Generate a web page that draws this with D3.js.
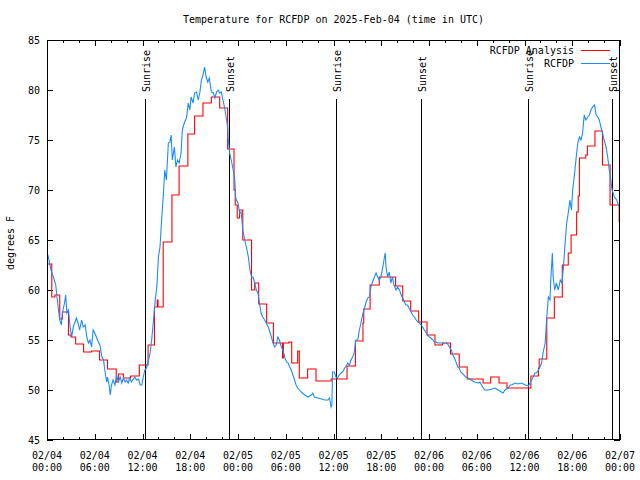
<!DOCTYPE html>
<html><head><meta charset="utf-8">
<script src="https://cdn.jsdelivr.net/npm/d3@7"></script>
<style>
body{margin:0;background:#fff}
svg text{font-family:"DejaVu Sans Mono","Liberation Mono",monospace;font-size:10px;fill:#000}
</style>
</head><body>
<svg id="chart" width="640" height="480"></svg>
<script>
// ---------- data (hours since 2025-02-04 00:00 UTC) ----------
const title = "Temperature for RCFDP on 2025-Feb-04 (time in UTC)";
const yLabel = "degrees F";
const seriesNames = ["RCFDP Analysis", "RCFDP"];
const yTicks = [45, 50, 55, 60, 65, 70, 75, 80, 85];
const xTickHours = [0, 6, 12, 18, 24, 30, 36, 42, 48, 54, 60, 66, 72];
const xTickDates = ["02/04","02/04","02/04","02/04","02/05","02/05","02/05","02/05","02/06","02/06","02/06","02/06","02/07"];
const xTickTimes = ["00:00","06:00","12:00","18:00","00:00","06:00","12:00","18:00","00:00","06:00","12:00","18:00","00:00"];
const eventNames = ["Sunrise","Sunset","Sunrise","Sunset","Sunrise","Sunset"];
const eventHours = [12.3, 22.92, 36.35, 47.02, 60.46, 71.03];

const analysisHours = [0,0.6,1.0,1.6,1.95,2.7,3.0,3.6,4.6,5.6,6.6,7.6,8.7,9.0,9.6,10.5,11.6,12.7,13.5,13.85,13.95,14.6,15.7,16.6,17.7,18.55,19.6,20.65,21.7,22.7,23.5,23.65,23.9,24.2,24.6,25.7,26.1,26.6,27.6,28.45,29.6,29.7,30.4,30.75,31.5,31.7,32.75,33.8,35.7,37.7,38.75,39.7,39.8,40.6,41.75,43.8,44.7,45.7,46.7,47.75,48.75,49.7,50.7,51.8,52.8,54.8,55.75,56.8,57.8,60.8,61.75,61.85,62.8,63.75,64.75,65.5,65.85,66.55,66.75,66.9,67.7,67.9,68.85,69.8,70.75,71.9,72];
const analysisTemps = [62.6,59.3,59.5,57.1,57.8,55.5,55.3,54.6,53.8,53.9,53.0,52.1,50.8,51.6,51.2,51.4,52.5,54.5,58.3,59.0,58.3,64.8,69.5,72.4,75.6,77.4,78.7,79.3,78.2,74.1,70.0,68.5,67.2,68.0,65.0,60.0,60.7,58.6,56.7,54.7,53.2,54.7,54.8,52.7,53.9,51.2,52.1,50.9,51.1,52.4,54.9,56.7,58.1,60.5,61.3,60.4,58.9,57.9,56.8,55.5,54.5,54.7,53.6,52.3,51.1,50.7,51.3,50.7,50.2,51.4,52.2,53.1,57.2,59.3,62.5,63.7,65.5,67.8,69.4,73.2,73.5,74.4,75.9,72.5,68.5,66.8,66.8];

const obsHours = [0,0.17,0.5,0.8,1.1,1.2,1.4,1.6,1.8,1.93,2.2,2.35,2.5,2.7,2.9,3.1,3.3,3.7,3.9,4.1,4.35,4.55,4.8,5.0,5.2,5.4,5.6,5.8,6.0,6.2,6.45,6.65,6.9,7.1,7.3,7.5,7.6,7.8,7.95,8.1,8.3,8.55,8.75,8.95,9.2,9.4,9.6,9.8,10.0,10.2,10.4,10.6,10.85,11.05,11.25,11.5,11.7,11.9,12.1,12.3,12.5,12.7,12.95,13.15,13.35,13.6,13.8,14.0,14.2,14.4,14.6,14.8,15.0,15.25,15.45,15.6,15.75,16.0,16.2,16.4,16.6,16.85,17.0,17.25,17.55,17.75,17.95,
18.1,18.35,18.55,18.8,19.0,19.2,19.4,19.6,19.8,20.0,20.2,20.4,20.65,20.9,21.1,21.3,21.5,21.7,21.9,22.1,22.3,22.5,22.7,22.75,22.95,23.2,23.4,23.6,23.7,23.8,24.0,24.2,24.4,24.6,24.85,25.05,25.3,25.5,25.7,25.9,26.1,26.3,26.5,26.7,26.9,27.1,27.35,27.55,27.8,28.0,28.2,28.4,28.6,28.8,29.0,29.2,29.45,29.65,29.9,30.1,30.3,30.5,30.7,30.9,31.1,31.3,31.5,31.95,32.4,32.8,33.2,33.4,33.6,34.05,34.5,34.9,35.3,35.5,35.7,35.8,35.88,
36.1,36.3,36.5,36.7,36.95,37.15,37.4,37.6,37.8,38.0,38.2,38.4,38.6,38.8,39.05,39.25,39.45,39.65,39.9,40.1,40.3,40.5,40.7,40.9,41.1,41.35,41.55,41.75,41.95,42.2,42.4,42.5,42.6,42.8,43.0,43.2,43.4,43.6,43.85,44.05,44.3,44.5,44.7,44.9,45.1,45.3,45.5,45.75,45.95,46.15,46.4,46.6,46.8,47.0,47.2,47.4,47.6,47.8,48.05,48.25,48.5,48.7,48.9,49.1,49.5,49.9,50.15,50.35,50.55,50.8,51.0,51.2,51.4,51.6,51.8,52.0,52.4,52.6,52.9,53.3,53.7,
54.2,54.4,54.6,55.0,55.45,55.9,56.3,56.7,57.1,57.3,57.55,57.75,57.95,58.2,58.4,58.8,59.2,59.65,60.1,60.5,60.7,60.9,61.1,61.3,61.5,61.75,61.95,62.15,62.35,62.6,62.8,63.0,63.2,63.3,63.5,63.6,63.8,64.0,64.25,64.5,64.7,64.9,65.1,65.3,65.5,65.7,65.9,66.05,66.25,66.5,66.7,66.9,67.1,67.3,67.5,67.7,67.95,68.15,68.35,68.55,68.8,69.0,69.2,69.4,69.6,69.8,70.0,70.25,70.45,70.65,70.85,71.0,71.3,71.6,71.8,72.0];
const obsTemps = [63.8,63.3,62.0,61.3,60.5,59.7,58.3,57.0,56.5,57.7,58.7,59.5,57.7,58.0,56.3,55.3,56.3,57.2,56.7,56.0,57.0,56.3,56.5,55.3,54.7,55.0,54.3,56.0,55.7,55.3,54.8,54.5,53.3,53.0,51.8,50.8,51.3,50.5,49.5,50.5,51.0,50.5,51.5,50.8,51.3,50.7,51.2,50.8,51.0,50.7,51.2,50.8,51.1,51.3,51.0,51.1,50.5,50.5,51.3,52.0,52.2,52.8,53.7,55.0,56.7,59.0,60.3,63.3,64.3,67.0,69.3,72.0,71.0,74.7,74.8,75.5,73.0,74.3,72.3,73.0,72.7,73.7,76.0,76.7,77.3,78.7,78.0,
79.3,78.7,79.7,79.8,79.0,79.7,81.0,81.5,82.3,81.3,80.8,81.2,79.8,79.7,79.2,79.8,80.0,79.7,79.8,79.0,78.3,77.3,76.3,75.3,73.7,72.8,72.0,71.0,69.3,69.0,68.7,67.7,67.8,66.0,65.0,64.3,63.3,62.0,61.3,61.3,60.7,60.0,59.7,58.7,57.7,57.3,57.0,56.7,56.3,55.8,55.3,54.7,54.3,54.5,55.3,55.0,54.3,54.0,53.2,52.8,52.7,52.3,52.0,51.5,51.0,50.5,50.2,49.8,49.5,49.3,49.5,49.7,49.3,49.2,49.1,49.0,49.0,49.2,48.3,48.5,51.8,
51.8,51.3,51.2,51.5,51.7,51.8,52.2,52.4,52.7,52.5,53.0,53.3,53.7,55.0,55.0,56.0,56.7,57.5,58.2,58.8,59.2,59.3,60.3,60.8,61.2,61.7,61.3,61.0,61.3,62.3,63.3,63.7,62.3,61.3,61.8,60.7,61.3,60.5,60.0,60.3,60.0,59.5,59.2,58.8,58.5,58.5,58.2,57.8,57.5,57.3,57.0,56.8,56.7,56.5,56.3,56.0,55.8,55.5,55.3,55.2,55.0,54.8,54.8,54.7,54.7,54.7,54.7,54.6,54.3,54.0,53.5,53.2,52.8,52.3,52.2,51.8,51.5,51.3,51.2,51.0,50.8,
50.7,50.8,50.5,50.0,50.0,50.1,50.2,50.0,49.8,49.7,50.0,50.1,50.2,50.5,50.5,50.7,50.6,50.7,50.5,50.4,50.7,51.0,51.3,51.7,51.7,52.0,52.3,52.7,53.8,54.7,57.3,59.3,59.0,61.0,63.7,61.3,60.0,60.7,60.0,61.0,60.7,62.3,64.7,66.7,67.7,69.0,68.0,70.0,71.3,73.3,74.7,75.3,75.0,75.7,77.5,77.0,77.3,77.5,78.0,78.3,78.5,77.5,77.3,77.0,76.3,75.7,75.0,74.3,73.3,72.0,71.0,70.0,69.3,69.0,68.5,68.2];

// ---------- layout ----------
const W = 640, H = 480;
const L = 47, R = 620, T = 40, B = 440;
const t0 = Date.UTC(2025, 1, 4, 0, 0);
const toDate = h => new Date(t0 + h * 3600e3);

const svg = d3.select("#chart");
const x = d3.scaleUtc().domain([toDate(0), toDate(72)]).range([L, R]);
const y = d3.scaleLinear().domain([45, 85]).range([B, T]);

svg.append("rect").attr("width", W).attr("height", H).attr("fill", "#fff");

svg.append("defs").append("clipPath").attr("id", "clip")
  .append("rect").attr("x", L).attr("y", T).attr("width", R - L).attr("height", B - T);

// title
svg.append("text").attr("x", (L + R) / 2).attr("y", 23).attr("text-anchor", "middle").text(title);

// y label
svg.append("text").attr("transform", "translate(14,243) rotate(-90)")
  .attr("text-anchor", "middle").text(yLabel);

// axes with inward ticks
const minorHours = d3.range(0, 73, 2).filter(h => h % 6 !== 0);
const g = svg.append("g").attr("shape-rendering", "crispEdges");

const xb = d3.axisBottom(x).tickValues(xTickHours.map(toDate)).tickSize(-6).tickSizeOuter(0).tickFormat("");
const xbm = d3.axisBottom(x).tickValues(minorHours.map(toDate)).tickSize(-3).tickSizeOuter(0).tickFormat("");
const xt = d3.axisTop(x).tickValues(xTickHours.map(toDate)).tickSize(-6).tickSizeOuter(0).tickFormat("");
const xtm = d3.axisTop(x).tickValues(minorHours.map(toDate)).tickSize(-3).tickSizeOuter(0).tickFormat("");
const yl = d3.axisLeft(y).tickValues(yTicks).tickSize(-6).tickSizeOuter(0).tickFormat("");
const yr = d3.axisRight(y).tickValues(yTicks).tickSize(-6).tickSizeOuter(0).tickFormat("");

g.append("g").attr("transform", `translate(0,${B})`).call(xb);
g.append("g").attr("transform", `translate(0,${B})`).call(xbm);
g.append("g").attr("transform", `translate(0,${T})`).call(xt);
g.append("g").attr("transform", `translate(0,${T})`).call(xtm);
g.append("g").attr("transform", `translate(${L},0)`).call(yl);
g.append("g").attr("transform", `translate(${R},0)`).call(yr);
g.selectAll(".domain").remove();
g.selectAll("line").attr("stroke", "#000");

// y tick labels
svg.append("g").selectAll("text").data(yTicks).join("text")
  .attr("x", 40).attr("y", d => y(d)).attr("dy", "0.35em")
  .attr("text-anchor", "end").text(d => d);

// x tick labels (two lines)
const xl = svg.append("g").selectAll("text").data(xTickHours).join("text")
  .attr("text-anchor", "middle");
xl.append("tspan").attr("x", h => x(toDate(h))).attr("y", 459).text((h, i) => xTickDates[i]);
xl.append("tspan").attr("x", h => x(toDate(h))).attr("y", 471).text((h, i) => xTickTimes[i]);

// event lines
const ev = svg.append("g");
ev.selectAll("line").data(eventHours).join("line")
  .attr("x1", h => Math.round(x(toDate(h))) + 0.5).attr("x2", h => Math.round(x(toDate(h))) + 0.5)
  .attr("y1", 99).attr("y2", B).attr("stroke", "#000").attr("stroke-width", 1)
  .attr("shape-rendering", "crispEdges");
ev.selectAll("text").data(eventHours).join("text")
  .attr("transform", h => `translate(${Math.round(x(toDate(h))) + 1},92) rotate(-90)`)
  .attr("text-anchor", "start").attr("dy", "0.4em")
  .text((h, i) => eventNames[i]);

// series
const plot = svg.append("g").attr("clip-path", "url(#clip)");
const redLine = d3.line().x(d => x(toDate(d[0]))).y(d => y(d[1])).curve(d3.curveStepAfter);
const blueLine = d3.line().x(d => x(toDate(d[0]))).y(d => y(d[1]));
plot.append("path").datum(analysisHours.map((h, i) => [h, analysisTemps[i]]))
  .attr("d", redLine).attr("fill", "none").attr("stroke", "#ff0000").attr("stroke-width", 1.1);
plot.append("path").datum(obsHours.map((h, i) => [h, obsTemps[i]]))
  .attr("d", blueLine).attr("fill", "none").attr("stroke", "#1a8cff").attr("stroke-width", 1.1);

// legend
const colors = ["#ff0000", "#1a8cff"];
const lg = svg.append("g");
seriesNames.forEach((n, i) => {
  const yy = 50 + i * 13;
  lg.append("text").attr("x", 574).attr("y", yy).attr("dy", "0.35em").attr("text-anchor", "end").text(n);
  lg.append("line").attr("x1", 581).attr("x2", 610).attr("y1", yy + 0.5).attr("y2", yy + 0.5)
    .attr("stroke", colors[i]).attr("stroke-width", 1).attr("shape-rendering", "crispEdges");
});

// frame
svg.append("rect").attr("x", L + 0.5).attr("y", T + 0.5).attr("width", R - L - 1).attr("height", B - T - 1)
  .attr("fill", "none").attr("stroke", "#000").attr("shape-rendering", "crispEdges");
</script>
</body></html>
